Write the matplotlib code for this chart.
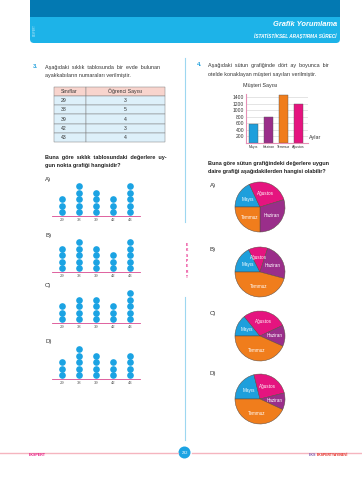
import numpy as np
import matplotlib
matplotlib.use("Agg")
import matplotlib.pyplot as plt
from matplotlib.patches import Rectangle, FancyBboxPatch, Circle

plt.rcParams['font.family'] = ['Liberation Sans', 'DejaVu Sans']

# ---------------- data ----------------
shoe_sizes = [29, 38, 39, 42, 43]
student_counts = [3, 5, 4, 3, 4]
table_header = ["Sınıflar", "Öğrenci Sayısı"]

dots_A = [3, 5, 4, 3, 5]
dots_B = [4, 5, 4, 3, 5]
dots_C = [3, 4, 4, 3, 5]
dots_D = [3, 5, 4, 3, 4]

months = ["Mayıs", "Haziran", "Temmuz", "Ağustos"]
customers = [580, 800, 1450, 1200]
bar_colors = ["#1E9FDC", "#9A2E8A", "#F07D1C", "#E5147F"]
y_ticks = [200, 400, 600, 800, 1000, 1200, 1400]

# pie slice order (clockwise from the left): Mayıs, Ağustos, Haziran, Temmuz  (degrees)
pie_labels = ["Mayıs", "Ağustos", "Haziran", "Temmuz"]
pie_colors = ["#1E9FDC", "#E5147F", "#9A2E8A", "#F07D1C"]
pie_A = [65, 98, 107, 90]
pie_B = [63, 45, 87, 165]
pie_C = [51, 104, 49, 156]
pie_D = [76, 90, 39, 155]

W, H = 362, 480
fig = plt.figure(figsize=(W / 100, H / 100), dpi=100)
fig.patch.set_facecolor("white")


def px_axes(x, y, w, h, z=1):
    return fig.add_axes([x / W, 1 - (y + h) / H, w / W, h / H], zorder=z)


bg = px_axes(0, 0, W, H, z=0)
bg.set_xlim(0, W)
bg.set_ylim(H, 0)
bg.axis("off")

# ---------------- header ----------------
bg.add_patch(FancyBboxPatch((30, 4), 310, 39, boxstyle="round,pad=0,rounding_size=4",
                            fc="#1DB3E8", ec="none"))
bg.add_patch(Rectangle((30, 0), 310, 17, fc="#0379B2", ec="none"))
bg.text(337, 24.5, "Grafik Yorumlama", color="white", fontsize=5.4, fontweight="bold",
        fontstyle="italic", ha="right", va="center")
bg.text(337, 36, "İSTATİSTİKSEL ARAŞTIRMA SÜRECİ", color="white", fontsize=3.4,
        fontweight="bold", fontstyle="italic", ha="right", va="center")
bg.text(35, 30, "EKSPERT", color="#BFE9F8", fontsize=1.8, rotation=90, ha="center", va="center")

# ---------------- column divider ----------------
bg.plot([185, 185], [58, 222], color="#9DD7F0", lw=0.8)
bg.plot([185, 185], [297, 440], color="#9DD7F0", lw=0.8)
bg.text(186.5, 261, "\n".join("EKSPERT"), color="#E5147F", fontsize=2.3, fontweight="bold",
        ha="center", va="center", linespacing=1.45)

# ---------------- question 3 ----------------
body = dict(fontsize=3.9, color="#333333", va="center")
bg.text(33, 67, "3.", color="#1E9FDC", fontsize=4.2, fontweight="bold", va="center")
bg.text(45, 67, "Aşağıdaki  sıklık  tablosunda  bir  evde  bulunan", **body)
bg.text(45, 76, "ayakkabıların numaraları verilmiştir.", **body)

tx = [54, 86, 165]
ty0, rh = 86.5, 9.25
rows = [table_header] + [[str(a), str(b)] for a, b in zip(shoe_sizes, student_counts)]
for r, row in enumerate(rows):
    y = ty0 + r * rh
    fc = "#F8D4CD" if r == 0 else "#DDF0FA"
    for c in range(2):
        bg.add_patch(Rectangle((tx[c], y), tx[c + 1] - tx[c], rh, fc=fc, ec="#7F7F7F", lw=0.35))
        xc = tx[c] + 7 if c == 0 else (tx[1] + tx[2]) / 2
        bg.text(xc, y + rh / 2 + 0.3, row[c], fontsize=3.7, color="#333333",
                ha="left" if c == 0 else "center", va="center")

bold = dict(fontsize=4.0, color="#222222", fontweight="bold", va="center")
bg.text(45, 157, "Buna  göre  sıklık  tablosundaki  değerlere  uy-", **bold)
bg.text(45, 165.5, "gun nokta grafiği hangisidir?", **bold)

# ---------------- dot plots ----------------
dot_sets = [("A)", dots_A, 180, 216), ("B)", dots_B, 235, 272),
            ("C)", dots_C, 285, 323), ("D)", dots_D, 341, 379)]
for lab, counts, ly, axis_y in dot_sets:
    bg.text(45, ly, lab, fontsize=4.3, color="#333333", va="center")
    unit = 6.5
    ax = px_axes(52, axis_y - 6 * unit, 88, 6 * unit)
    ax.set_xlim(-10 / 17, 4 + 10 / 17)
    ax.set_ylim(0, 6)
    for i, n in enumerate(counts):
        ax.plot([i] * n, np.arange(n) + 0.55, "o", color="#1BA3E3", ms=4.8, mec="none")
    for s in ["top", "right", "left"]:
        ax.spines[s].set_visible(False)
    ax.spines["bottom"].set_color("#D9488F")
    ax.spines["bottom"].set_linewidth(0.6)
    ax.set_yticks([])
    ax.set_xticks(range(len(shoe_sizes)))
    ax.set_xticklabels([str(s) for s in shoe_sizes], fontsize=3.0, color="#555555")
    ax.tick_params(axis="x", length=0, pad=1.5)
    ax.patch.set_alpha(0)

# ---------------- question 4 ----------------
bg.text(197, 65, "4.", color="#1E9FDC", fontsize=4.2, fontweight="bold", va="center")
bg.text(208, 65, "Aşağıdaki  sütun  grafiğinde  dört  ay  boyunca  bir", **body)
bg.text(208, 74.5, "otelde konaklayan müşteri sayıları verilmiştir.", **body)

ylim_top = 1480
ppu = 46 / 1400
bax = px_axes(246, 143 - ylim_top * ppu, 61.5, ylim_top * ppu, z=2)
bax.set_xlim(-0.5, 3.6)
bax.set_ylim(0, ylim_top)
bax.set_axisbelow(True)
bax.grid(axis="y", color="#D0D0D0", lw=0.4)
bax.bar(range(len(months)), customers, width=0.6, color=bar_colors, edgecolor="#555555", lw=0.3)
for s in ["top", "right"]:
    bax.spines[s].set_visible(False)
for s in ["left", "bottom"]:
    bax.spines[s].set_color("#E58FB5")
    bax.spines[s].set_linewidth(0.8)
bax.set_yticks(y_ticks)
bax.set_yticklabels([str(v) for v in y_ticks], fontsize=3.6, color="#333333")
bax.set_xticks(range(len(months)))
bax.set_xticklabels(months, fontsize=2.5, color="#333333")
bax.tick_params(length=0, pad=1.2)
bax.patch.set_alpha(0)
bg.text(243, 86, "Müşteri Sayısı", fontsize=3.9, color="#333333", va="center")
bg.text(309, 138, "Aylar", fontsize=3.9, color="#333333", va="center")

bg.text(208, 163, "Buna göre sütun grafiğindeki değerlere uygun", **bold)
bg.text(208, 172, "daire grafiği aşağıdakilerden hangisi olabilir?", **bold)

# ---------------- pies ----------------
pie_sets = [("A)", pie_A, 185, 207), ("B)", pie_B, 249, 272),
            ("C)", pie_C, 313, 336), ("D)", pie_D, 374, 399)]
for lab, vals, ly, cy in pie_sets:
    bg.text(210, ly, lab, fontsize=4.3, color="#333333", va="center")
    r = 25.5
    pax = px_axes(260 - r, cy - r, 2 * r, 2 * r, z=2)
    wedges, texts = pax.pie(vals, labels=pie_labels, colors=pie_colors, startangle=180,
                            counterclock=False, labeldistance=0.58,
                            wedgeprops=dict(edgecolor="#5A4A40", linewidth=0.35),
                            textprops=dict(color="white", fontsize=3.3))
    for t in texts:
        t.set_ha("center")
        t.set_va("center")
    pax.set_xlim(-1.02, 1.02)
    pax.set_ylim(-1.02, 1.02)
    pax.axis("off")

# ---------------- footer ----------------
bg.plot([0, 178], [452.5, 452.5], color="#F5B5BF", lw=1.0)
bg.plot([192, 362], [452.5, 452.5], color="#F5B5BF", lw=1.0)
bg.add_patch(Circle((184.5, 452.5), 6, fc="#1BA3E3", ec="none"))
bg.text(184.5, 452.8, "232", color="white", fontsize=2.8, ha="center", va="center")
bg.text(29, 455.5, "EKSPERT", color="#E5147F", fontsize=2.6, fontweight="bold", va="center")
bg.text(309, 455.5, "EKS", color="#7B5BB0", fontsize=2.6, fontweight="bold", va="center")
bg.text(317, 455.5, "EKSPERTYAYINEVİ", color="#E2231A", fontsize=2.4, fontweight="bold", va="center")

fig.savefig("out.png", dpi=100)
